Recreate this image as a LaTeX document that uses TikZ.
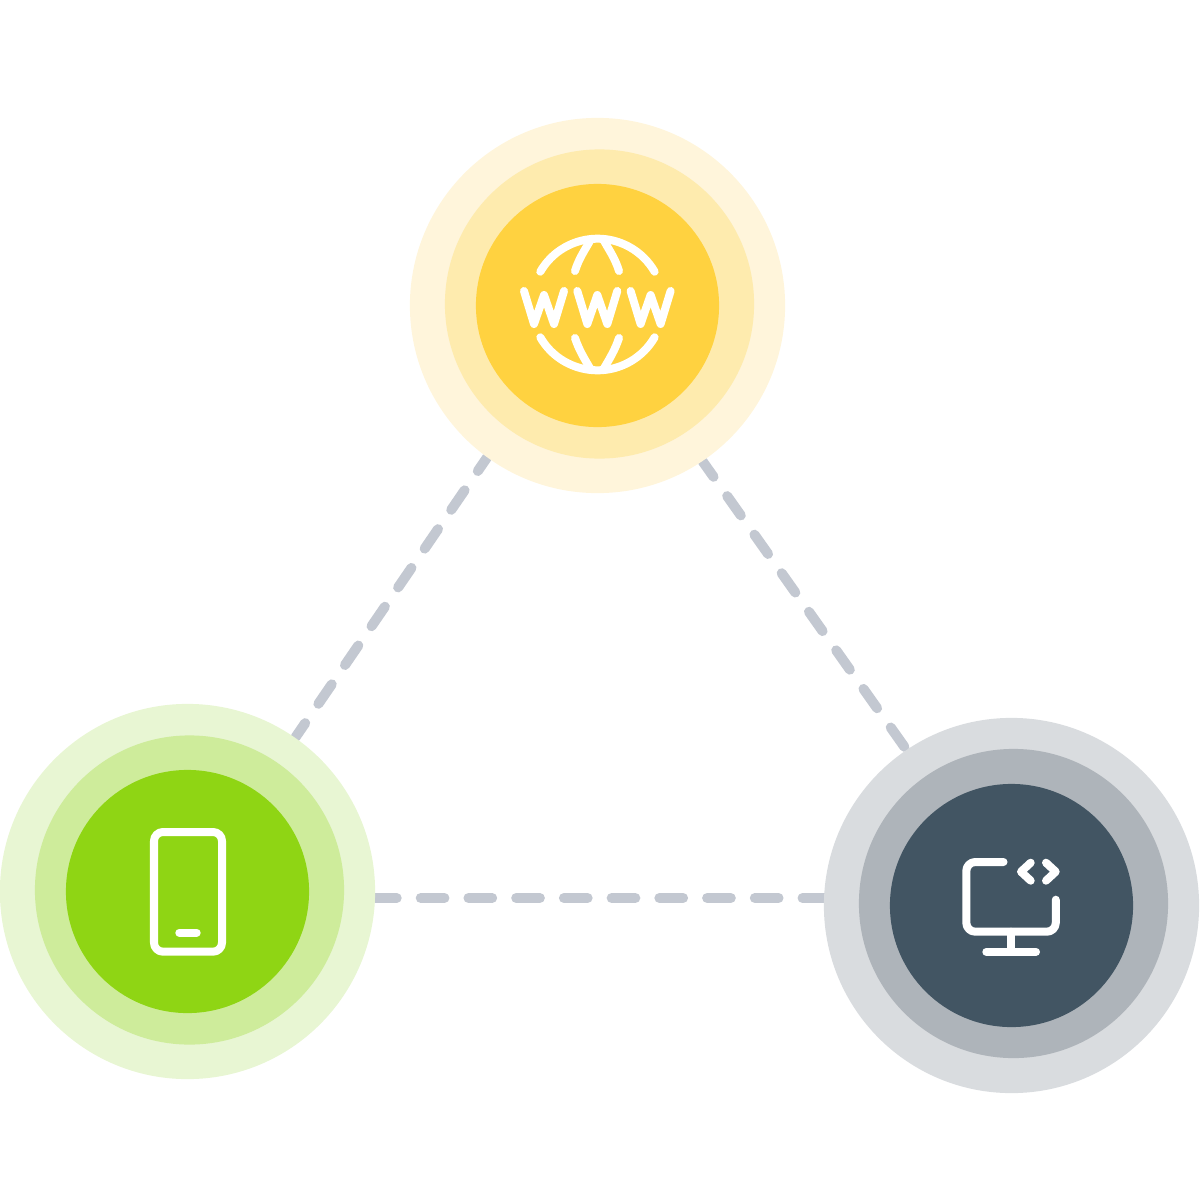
\documentclass[tikz,border=0pt]{standalone}
\usepackage{tikz}
\usetikzlibrary{backgrounds}

\definecolor{linkgrey}{HTML}{C3C8D1}
\definecolor{webouter}{HTML}{FFF5DB}
\definecolor{webmid}{HTML}{FEEBAE}
\definecolor{webcore}{HTML}{FFD240}
\definecolor{phoneouter}{HTML}{E8F6D3}
\definecolor{phonemid}{HTML}{CEEC9B}
\definecolor{phonecore}{HTML}{8FD514}
\definecolor{deskouter}{HTML}{D9DCDF}
\definecolor{deskmid}{HTML}{AEB4BA}
\definecolor{deskcore}{HTML}{425563}

\begin{document}
\begin{tikzpicture}[x=0.01cm,y=-0.01cm,
                    outer ring/.style={circle,inner sep=0pt,minimum size=3.75cm},
                    mid ring/.style={circle,inner sep=0pt,minimum size=3.09cm},
                    core/.style={circle,inner sep=0pt,minimum size=2.43cm},
                    link/.style={draw=linkgrey,line width=1mm,line cap=round},
                    icon/.style={draw=white,line width=0.8mm,line cap=round,line join=round}]
                    \useasboundingbox (0,0) rectangle (1200,1200);

                    \node[outer ring,fill=webouter] (webO) at (597.5,305.5) {};
                    \node[mid ring,fill=webmid] (webM) at (599.5,304) {};
                    \node[core,fill=webcore] (web) at (597.5,305.5) {};

                    \node[outer ring,fill=phoneouter] (phoneO) at (187.5,891.5) {};
                    \node[mid ring,fill=phonemid] (phoneM) at (189.5,890) {};
                    \node[core,fill=phonecore] (phone) at (187.5,891.5) {};

                    \node[outer ring,fill=deskouter] (deskO) at (1011.5,905.5) {};
                    \node[mid ring,fill=deskmid] (deskM) at (1013.5,903.5) {};
                    \node[core,fill=deskcore] (desk) at (1011.5,905.5) {};

                    \coordinate (phoneR) at (373,898);
                    \coordinate (deskL) at (830,898);

                    \begin{scope}[on background layer]
                        \path[link,dash pattern=on 0.236cm off 0.234cm,dash phase=0.065cm]
                            (phoneO.55.95) -- (webO.234.05);
                        \path[link,dash pattern=on 0.236cm off 0.236cm,dash phase=0.05cm]
                            (webO.-56.1) -- (deskO.124.6);
                        \path[link,dash pattern=on 0.237cm off 0.24cm]
                            (phoneR) -- (deskL);
                    \end{scope}

                    % globe
                    \draw[icon] (540.3,271.7) arc[start angle=210,end angle=330,radius=66];
                    \draw[icon] (540.3,337.3) arc[start angle=150,end angle=30,radius=66];
                    \draw[icon] (575,271) .. controls (579,258) and (585,250) .. (591,239);
                    \draw[icon] (619,271) .. controls (615,258) and (609,250) .. (603,239);
                    \draw[icon] (575,338) .. controls (579,350) and (584,358) .. (591,370);
                    \draw[icon] (619,338) .. controls (615,350) and (610,358) .. (603,370);
                    \foreach \wx in {0,53.3,106.6}
                        \draw[icon,shift={(\wx,0)}] (524,291) -- (534,324) -- (544,295) -- (554,324) -- (564,291);

                    % phone
                    \draw[icon,rounded corners=0.09cm] (154,832) rectangle (222,951.7);
                    \draw[icon] (179.3,932.7) -- (196.7,932.7);

                    % monitor
                    \draw[icon,rounded corners=0.09cm] (1003.5,862) -- (966.3,862) -- (966.3,931.7) -- (1055.8,931.7) -- (1055.8,899.7);
                    \draw[icon] (1010.8,931.7) -- (1010.8,951.8);
                    \draw[icon] (986.3,951.8) -- (1036,951.8);
                    \draw[icon] (1030.7,862.7) -- (1021,871.7) -- (1030.7,880.7);
                    \draw[icon] (1046,862.7) -- (1055.7,871.7) -- (1046,880.7);
                \end{tikzpicture}
\end{document}
